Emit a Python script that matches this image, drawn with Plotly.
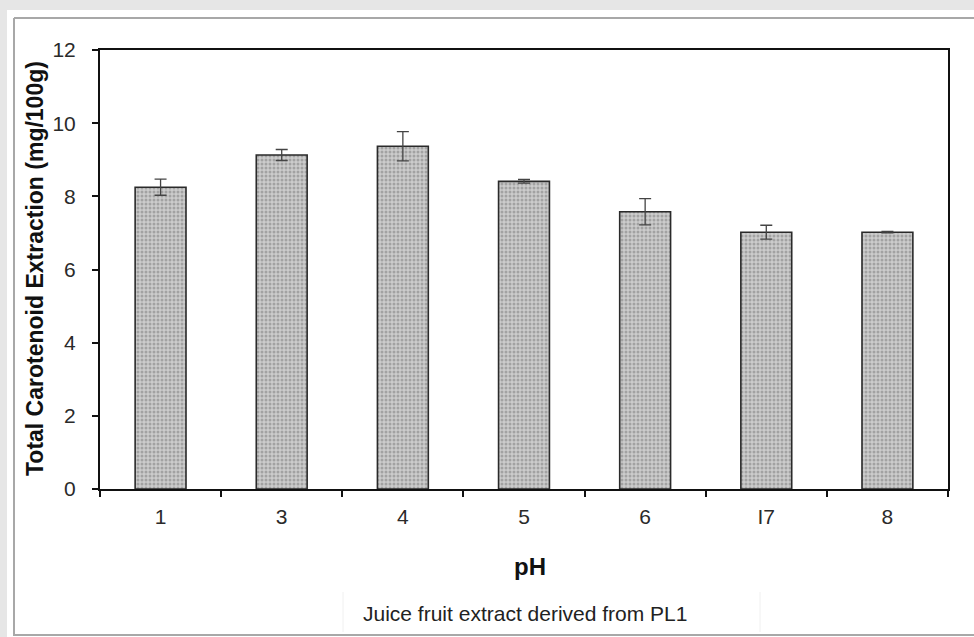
import plotly.graph_objects as go

ph_labels = ["1", "3", "4", "5", "6", "I7", "8"]
carotenoid = [8.25, 9.13, 9.37, 8.41, 7.58, 7.02, 7.02]
error = [0.22, 0.15, 0.40, 0.05, 0.36, 0.19, 0.02]
y_ticks = [0, 2, 4, 6, 8, 10, 12]

W, H = 974, 637
L, R, T, B = 100, 26, 50, 148
PW, PH = W - L - R, H - T - B

def px(x):
    return (x - L) / PW

def py(y):
    return (H - B - y) / PH

fig = go.Figure()
fig.add_trace(go.Bar(
    x=ph_labels, y=carotenoid, width=0.42,
    marker=dict(color="#c0c0c0", line=dict(color="#2a2a2a", width=1.6),
                pattern=dict(shape=".", fgcolor="#777777", bgcolor="#cccccc", size=4, solidity=0.45)),
    error_y=dict(type="data", array=error, visible=True, color="#444444", thickness=1.3, width=6),
))

shapes = [
    dict(type="rect", xref="paper", yref="paper", x0=px(0), x1=px(7), y0=py(H), y1=py(0),
         fillcolor="#e6e6e6", line=dict(width=0), layer="below"),
    dict(type="rect", xref="paper", yref="paper", x0=px(0), x1=px(W), y0=py(10), y1=py(0),
         fillcolor="#e6e6e6", line=dict(width=0), layer="below"),
    dict(type="line", xref="paper", yref="paper", x0=px(14), x1=px(W), y0=py(18), y1=py(18),
         line=dict(color="#a8a8a8", width=2)),
    dict(type="line", xref="paper", yref="paper", x0=px(14), x1=px(14), y0=py(18), y1=py(636),
         line=dict(color="#a8a8a8", width=2)),
    dict(type="line", xref="paper", yref="paper", x0=px(14), x1=px(W), y0=py(635), y1=py(635),
         line=dict(color="#a8a8a8", width=2)),
    dict(type="line", xref="paper", yref="paper", x0=px(343), x1=px(343), y0=py(592), y1=py(632),
         line=dict(color="#f0f0f0", width=1)),
    dict(type="line", xref="paper", yref="paper", x0=px(760), x1=px(760), y0=py(592), y1=py(632),
         line=dict(color="#f0f0f0", width=1)),
]

fig.update_layout(
    width=W, height=H,
    margin=dict(l=L, r=R, t=T, b=B),
    paper_bgcolor="white", plot_bgcolor="white",
    showlegend=False,
    font=dict(family="Liberation Sans, Arial, sans-serif", color="#111111"),
    shapes=shapes,
    xaxis=dict(
        showline=True, linecolor="#111111", linewidth=2, mirror=True,
        ticks="outside", ticklen=6, tickwidth=1.5, tickcolor="#111111",
        tickson="boundaries", tickfont=dict(size=21, color="#2a2a2a"), showgrid=False,
        range=[-0.5, 6.5], ticklabelstandoff=8,
    ),
    yaxis=dict(
        range=[0, 12], tickvals=y_ticks, showline=True, linecolor="#111111", linewidth=2, mirror=True,
        ticks="outside", ticklen=6, tickwidth=1.5, tickcolor="#111111",
        tickfont=dict(size=21, color="#2a2a2a"), showgrid=False, zeroline=False,
        ticklabelstandoff=12,
    ),
    annotations=[
        dict(text="<b>Total Carotenoid Extraction (mg/100g)</b>", xref="paper", yref="paper",
             x=px(35), y=py(269), textangle=-90, showarrow=False, font=dict(size=23),
             xanchor="center", yanchor="middle"),
        dict(text="<b>pH</b>", xref="paper", yref="paper", x=px(530), y=py(566), showarrow=False,
             font=dict(size=24), xanchor="center", yanchor="middle"),
        dict(text="Juice fruit extract derived from PL1", xref="paper", yref="paper",
             x=px(525), y=py(613), showarrow=False, font=dict(size=21, color="#222222"),
             xanchor="center", yanchor="middle"),
    ],
)

fig.write_html("out.html", config={"displayModeBar": False},
               post_script="document.body.style.margin='0px';")
